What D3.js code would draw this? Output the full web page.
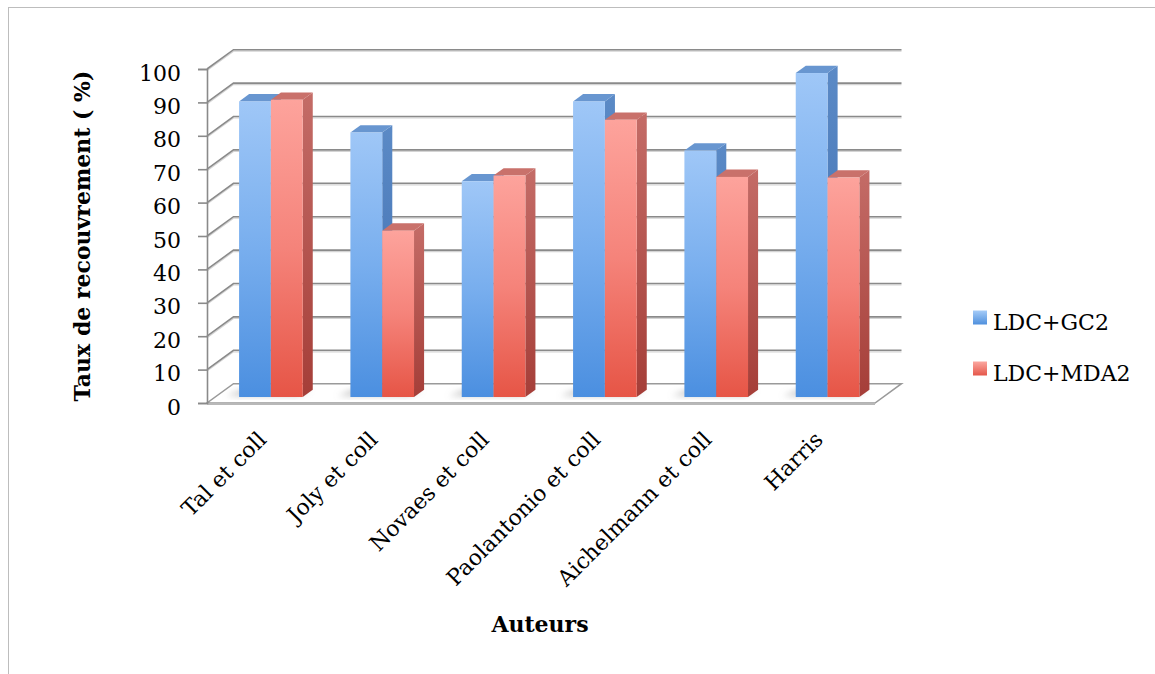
<!DOCTYPE html>
<html><head><meta charset="utf-8">
<script src="https://cdn.jsdelivr.net/npm/d3@7"></script>
<style>
html,body{margin:0;padding:0;background:#fff;}
svg{display:block;}
text{font-family:"DejaVu Serif",serif;fill:#000;}
</style></head>
<body>
<svg id="chart" width="1155" height="674"></svg>
<script>
const categories = ["Tal et coll","Joly et coll","Novaes et coll","Paolantonio et coll","Aichelmann et coll","Harris"];
const seriesNames = ["LDC+GC2","LDC+MDA2"];
const valuesGC2  = [88.5, 79.2, 64.6, 88.5, 73.8, 97.0];
const valuesMDA2 = [89.0, 49.8, 66.3, 83.0, 65.9, 65.7];
const yTicks = [0,10,20,30,40,50,60,70,80,90,100];
const yTitle = "Taux de recouvrement ( %)";
const xTitle = "Auteurs";

const svg = d3.select("#chart");
const DX = 26.5, DY = 19.3;      // depth offset of the back wall
const T0 = 0.31, T1 = 0.69;      // bar front/back depth

const x0 = d3.scaleBand().domain(categories).range([207, 875]).paddingInner(0.4286).paddingOuter(0.2143);
const x1 = d3.scaleBand().domain(seriesNames).range([0, x0.bandwidth()]);
const y = d3.scaleLinear().domain([0, 100]).range([403, 69]);

const data = categories.map((c, i) => ({cat: c, vals: [valuesGC2[i], valuesMDA2[i]]}));

// gradients
const defs = svg.append("defs");
function grad(id, stops, x2, y2) {
  const g = defs.append("linearGradient").attr("id", id)
    .attr("x1", 0).attr("y1", 0).attr("x2", x2).attr("y2", y2);
  stops.forEach(s => g.append("stop").attr("offset", s[0]).attr("stop-color", s[1]));
}
grad("blueFront", [[0,"#9fc7f7"],[0.5,"#78aeee"],[1,"#4b8fe0"]], 0, 1);
grad("redFront",  [[0,"#fda39c"],[0.5,"#f5837a"],[1,"#e65546"]], 0, 1);
grad("blueSide",  [[0,"#5b8ac6"],[1,"#3c6cae"]], 0, 1);
grad("redSide",   [[0,"#c46c67"],[1,"#a53e38"]], 0, 1);
grad("blueLeg",   [[0,"#a6ccf8"],[1,"#4f90dd"]], 0, 1);
grad("redLeg",    [[0,"#fba7a0"],[1,"#e5574a"]], 0, 1);
const colors = [
  {front:"url(#blueFront)", side:"url(#blueSide)", top:"#6896d0", leg:"url(#blueLeg)"},
  {front:"url(#redFront)",  side:"url(#redSide)",  top:"#c9716b", leg:"url(#redLeg)"}
];
const blur = defs.append("filter").attr("id","blur").attr("x","-50%").attr("y","-50%").attr("width","200%").attr("height","200%");
blur.append("feGaussianBlur").attr("stdDeviation", 3);

// outer border
svg.append("rect").attr("x", 8.5).attr("y", 7.5).attr("width", 1170).attr("height", 700)
  .attr("fill", "none").attr("stroke", "#bdbdbd").attr("stroke-width", 1);

const xL = x0.range()[0], xR = x0.range()[1];

// floor
const floorPts = [[xL, y(0)], [xR, y(0)], [xR + DX, y(0) - DY], [xL + DX, y(0) - DY]];
svg.append("polygon").attr("points", floorPts.map(p => p.join(",")).join(" "))
  .attr("fill", "#fff").attr("stroke", "#9a9a9a").attr("stroke-width", 1.5);
svg.append("line").attr("x1", xL).attr("x2", xR).attr("y1", y(0) + 1).attr("y2", y(0) + 1)
  .attr("stroke", "#b8b8b8").attr("stroke-width", 2);

// gridlines: left wall + back wall
const grid = svg.append("g");
yTicks.filter(v => v > 0).forEach(v => {
  grid.append("path")
    .attr("d", `M${xL},${y(v)}L${xL + DX},${y(v) - DY}L${xR + DX},${y(v) - DY}`)
    .attr("fill", "none").attr("stroke", "#d4d4d4").attr("stroke-width", 1.2).attr("transform", "translate(0,1.5)");
  grid.append("path")
    .attr("d", `M${xL},${y(v)}L${xL + DX},${y(v) - DY}L${xR + DX},${y(v) - DY}`)
    .attr("fill", "none").attr("stroke", "#8a8a8a").attr("stroke-width", 1.6);
});

// floor shadows
const shadows = svg.append("g").attr("filter", "url(#blur)");
data.forEach(d => {
  const xa = x0(d.cat), xb = x0(d.cat) + x0.bandwidth();
  const p = (xx, t) => [xx + DX * t, y(0) - DY * t];
  const pts = [p(xa - 14, T0 + 0.05), p(xb - 6, T0 + 0.05), p(xb - 2, T1), p(xa - 8, T1)];
  shadows.append("polygon").attr("points", pts.map(q => q.join(",")).join(" "))
    .attr("fill", "#9c9c9c").attr("opacity", 0.55);
});

// bars
const bars = svg.append("g");
data.forEach(d => {
  d.vals.forEach((v, si) => {
    const xa = x0(d.cat) + x1(seriesNames[si]);
    const w = x1.bandwidth();
    const fx = xa + DX * T0, fyTop = y(v) - DY * T0, fyBase = y(0) - DY * T0;
    const bdx = DX * (T1 - T0), bdy = DY * (T1 - T0);
    const c = colors[si];
    bars.append("polygon").attr("points",
      [[fx + w, fyTop], [fx + w + bdx, fyTop - bdy], [fx + w + bdx, fyBase - bdy], [fx + w, fyBase]].map(q => q.join(",")).join(" "))
      .attr("fill", c.side);
    bars.append("polygon").attr("points",
      [[fx, fyTop], [fx + bdx, fyTop - bdy], [fx + w + bdx, fyTop - bdy], [fx + w, fyTop]].map(q => q.join(",")).join(" "))
      .attr("fill", c.top);
    bars.append("rect").attr("x", fx).attr("y", fyTop).attr("width", w).attr("height", fyBase - fyTop)
      .attr("fill", c.front);
  });
});

// y axis
const yAxis = d3.axisLeft(y).tickValues(yTicks).tickSize(9).tickPadding(17).tickFormat(d3.format("d"));
const ya = svg.append("g").attr("transform", `translate(${xL},0)`).call(yAxis);
ya.select(".domain").attr("stroke", "#8a8a8a").attr("stroke-width", 1.6);
ya.selectAll(".tick line").attr("stroke", "#8a8a8a").attr("stroke-width", 1.6);
ya.selectAll(".tick text").attr("font-family", "DejaVu Serif").attr("font-size", 22).attr("fill", "#000").attr("dy", "0.5em");

// x labels
const xl = svg.append("g");
categories.forEach(c => {
  const cx = x0(c) + x0.bandwidth() / 2;
  xl.append("text").attr("transform", `translate(${cx + 5},${441}) rotate(-45)`)
    .attr("text-anchor", "end").attr("font-size", 22).text(c);
});

// axis titles
svg.append("text").attr("transform", `translate(90,236) rotate(-90)`).attr("text-anchor", "middle")
  .attr("font-size", 22).attr("font-weight", "bold").text(yTitle);
svg.append("text").attr("x", 540).attr("y", 632).attr("text-anchor", "middle")
  .attr("font-size", 22).attr("font-weight", "bold").text(xTitle);

// legend
const leg = svg.append("g");
seriesNames.forEach((s, i) => {
  const yy = 310.5 + i * 51;
  leg.append("rect").attr("x", 973).attr("y", yy).attr("width", 14).attr("height", 14).attr("fill", colors[i].leg);
  leg.append("text").attr("x", 993).attr("y", yy + 19).attr("font-size", 22).text(s);
});
</script>
</body></html>
